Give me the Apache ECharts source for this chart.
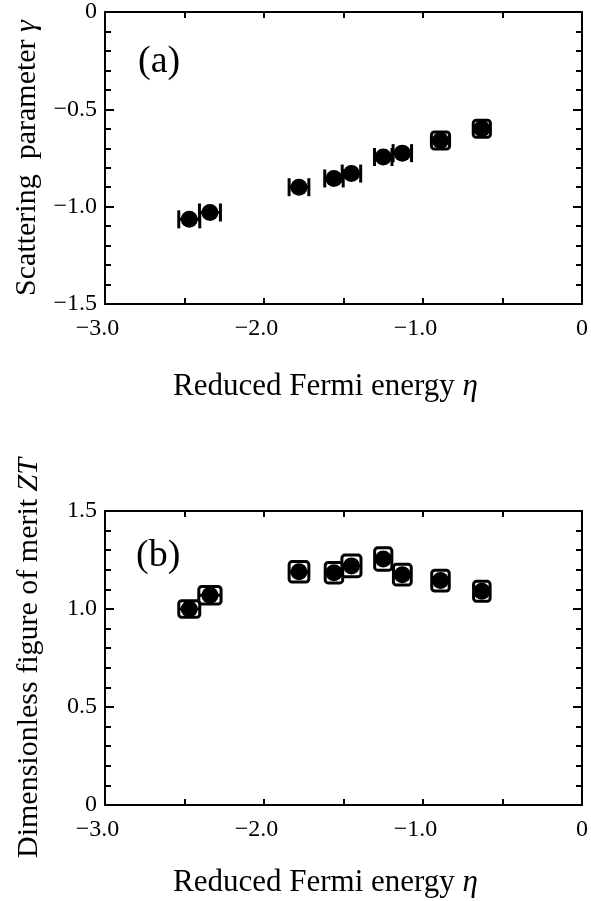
<!DOCTYPE html>
<html><head><meta charset="utf-8">
<script src="https://cdn.jsdelivr.net/npm/echarts@6/dist/echarts.min.js"></script>
<style>html,body{margin:0;padding:0;background:#fff}#c{width:591px;height:901px}</style>
</head><body><div id="c"></div>
<script>
// ---- data ----
const eta = [-2.47, -2.34, -1.78, -1.56, -1.45, -1.25, -1.13, -0.89, -0.63];
const gamma = [-1.065, -1.03, -0.90, -0.855, -0.83, -0.745, -0.725, -0.66, -0.60];
const gammaXErr = [0.066, 0.066, 0.062, 0.058, 0.058, 0.055, 0.058, 0.057, 0.054];
const gammaYErr = [0, 0, 0, 0, 0, 0, 0, 0.044, 0.044];
const zt = [1.00, 1.07, 1.19, 1.185, 1.22, 1.255, 1.175, 1.145, 1.09];
const ztXErr = [0.066, 0.07, 0.062, 0.055, 0.06, 0.054, 0.056, 0.055, 0.052];
const ztYErr = [0.042, 0.045, 0.052, 0.052, 0.055, 0.057, 0.053, 0.053, 0.051];
const xTickValues = [-3, -2, -1, 0];
const xTickLabels = ['\u22123.0', '\u22122.0', '\u22121.0', '0'];
const yTickValuesA = [0, -0.5, -1, -1.5];
const yTickLabelsA = ['0', '\u22120.5', '\u22121.0', '\u22121.5'];
const yTickValuesB = [0, 0.5, 1, 1.5];
const yTickLabelsB = ['0', '0.5', '1.0', '1.5'];

const FONT = '"Liberation Serif", "Times New Roman", serif';
const lookup = (vals, labs) => v => {
  for (let i = 0; i < vals.length; i++) if (Math.abs(vals[i] - v) < 1e-6) return labs[i];
  return '';
};
// x labels: the number part is centred on the tick, the minus hangs to the left
const xLabelFmt = v => {
  const s = lookup(xTickValues, xTickLabels)(v);
  if (!s) return '';
  return s.charAt(0) === '\u2212' ? '{n|' + s + '}' : '{p|' + s + '}';
};

function xAxes(gi) {
  const base = {
    gridIndex: gi, type: 'value', min: -3, max: 0, interval: 0.5,
    axisLine: { show: true, onZero: false, lineStyle: { color: '#000', width: 2 } },
    axisTick: { show: true, inside: true, length: 6, lineStyle: { color: '#000', width: 2 } },
    splitLine: { show: false }
  };
  return [
    Object.assign({}, base, {
      position: 'bottom',
      axisLabel: {
        show: true, formatter: xLabelFmt, color: '#000', fontFamily: FONT, fontSize: 24, margin: 13,
        showMinLabel: true, showMaxLabel: true,
        rich: {
          n: { fontFamily: FONT, fontSize: 24, color: '#000', padding: [0, 15, 0, 0] },
          p: { fontFamily: FONT, fontSize: 24, color: '#000' }
        }
      },
      name: 'Reduced Fermi energy {i|\u03b7}', nameLocation: 'middle', nameGap: gi === 0 ? 67 : 62,
      nameTextStyle: { color: '#000', fontFamily: FONT, fontSize: 31, padding: [0, 36, 0, 0], rich: { i: { fontStyle: 'italic', fontFamily: FONT, fontSize: 31, color: '#000' } } }
    }),
    Object.assign({}, base, { position: 'top', axisLabel: { show: false } })
  ];
}
function yAxes(gi, min, max, vals, labs, name, gap) {
  const base = {
    gridIndex: gi, type: 'value', min: min, max: max, interval: 0.5,
    axisLine: { show: true, onZero: false, lineStyle: { color: '#000', width: 2 } },
    axisTick: { show: true, inside: true, length: 9, lineStyle: { color: '#000', width: 2 } },
    minorTick: { show: true, splitNumber: 5, length: 6, lineStyle: { color: '#000', width: 2 } },
    splitLine: { show: false }, minorSplitLine: { show: false }
  };
  return [
    Object.assign({}, base, {
      position: 'left',
      axisLabel: { show: true, formatter: lookup(vals, labs), color: '#000', fontFamily: FONT, fontSize: 24, margin: 8, showMinLabel: true, showMaxLabel: true },
      name: name, nameLocation: 'middle', nameGap: gap, nameRotate: 90,
      nameTextStyle: { color: '#000', fontFamily: FONT, fontSize: 30, rich: { i: { fontStyle: 'italic', fontFamily: FONT, fontSize: 30, color: '#000' } } }
    }),
    Object.assign({}, base, { position: 'right', axisLabel: { show: false } })
  ];
}

function errRender(params, api) {
  const x = api.value(0), y = api.value(1), xe = api.value(2), ye = api.value(3);
  const c = api.coord([x, y]);
  const l = api.coord([x - xe, y])[0], r = api.coord([x + xe, y])[0];
  const st = { stroke: '#000', lineWidth: 3, fill: null };
  const children = [];
  if (ye > 0) {
    const t = api.coord([x, y + ye])[1], b = api.coord([x, y - ye])[1];
    children.push({ type: 'rect', shape: { x: l, y: t, width: r - l, height: b - t, r: 3 }, style: st });
  } else {
    const h = 9;
    children.push({ type: 'line', shape: { x1: l, y1: c[1] - h, x2: l, y2: c[1] + h }, style: st });
    children.push({ type: 'line', shape: { x1: r, y1: c[1] - h, x2: r, y2: c[1] + h }, style: st });
  }
  children.push({ type: 'line', shape: { x1: l, y1: c[1], x2: r, y2: c[1] }, style: st });
  return { type: 'group', children: children };
}

const dataA = eta.map((e, i) => [e, gamma[i], gammaXErr[i], gammaYErr[i]]);
const dataB = eta.map((e, i) => [e, zt[i], ztXErr[i], ztYErr[i]]);

const chart = echarts.init(document.getElementById('c'), null, { renderer: 'canvas' });
chart.setOption({
  animation: false,
  backgroundColor: '#fff',
  title: [
    { text: '(a)', left: 133, top: 38, textStyle: { fontFamily: FONT, fontSize: 38, fontWeight: 'normal', color: '#000' } },
    { text: '(b)', left: 131, top: 532, textStyle: { fontFamily: FONT, fontSize: 38, fontWeight: 'normal', color: '#000' } }
  ],
  grid: [
    { left: 105, top: 12, width: 477, height: 292 },
    { left: 105, top: 511, width: 477, height: 294 }
  ],
  xAxis: xAxes(0).concat(xAxes(1)),
  yAxis: yAxes(0, -1.5, 0, yTickValuesA, yTickLabelsA, 'Scattering  parameter {i|\u03b3}', 57)
    .concat(yAxes(1, 0, 1.5, yTickValuesB, yTickLabelsB, 'Dimensionless figure of merit {i|ZT}', 61)),
  series: [
    { type: 'custom', xAxisIndex: 0, yAxisIndex: 0, renderItem: errRender, data: dataA, z: 2 },
    { type: 'scatter', xAxisIndex: 0, yAxisIndex: 0, symbol: 'circle', symbolSize: 17, itemStyle: { color: '#000', opacity: 1 }, data: dataA.map(d => [d[0], d[1]]), z: 3 },
    { type: 'custom', xAxisIndex: 2, yAxisIndex: 2, renderItem: errRender, data: dataB, z: 2 },
    { type: 'scatter', xAxisIndex: 2, yAxisIndex: 2, symbol: 'circle', symbolSize: 17, itemStyle: { color: '#000', opacity: 1 }, data: dataB.map(d => [d[0], d[1]]), z: 3 }
  ]
});
</script></body></html>
